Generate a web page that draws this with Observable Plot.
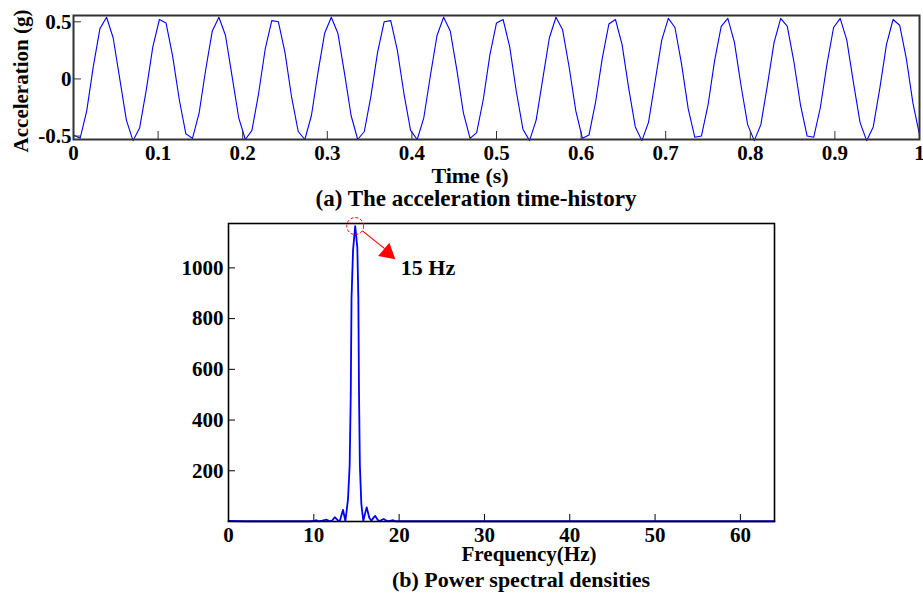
<!DOCTYPE html>
<html><head><meta charset="utf-8">
<script src="https://cdn.jsdelivr.net/npm/d3@7"></script>
<script src="https://cdn.jsdelivr.net/npm/@observablehq/plot@0.6"></script>
<style>
body{margin:0;background:#fff;}
#wrap{position:relative;width:923px;height:593px;background:#fff;overflow:hidden;font-family:"Liberation Serif","Times New Roman",serif;font-weight:bold;color:#000;}
.lbl{position:absolute;transform:translate(-50%,-50%);white-space:nowrap;font-size:22px;line-height:0.9;}
.panel{position:absolute;left:0;}
.panel svg{display:block;}
</style></head><body><div id="wrap"></div>
<script>
// ---- Panel (a): acceleration time-history (sampled at 128 Hz over 1 s) ----
const sampleInterval = 1 / 128;
const accel = [
  -0.49, -0.52, -0.28, 0.11, 0.44, 0.54, 0.36, 0.00, -0.36, -0.54, -0.43,
  -0.10, 0.28, 0.52, 0.49, 0.20, -0.18, -0.48, -0.52, -0.30, 0.08,
  0.42, 0.54, 0.38, 0.02, -0.34, -0.53, -0.45, -0.13, 0.26, 0.51,
  0.50, 0.23, -0.16, -0.46, -0.53, -0.32, 0.06, 0.40, 0.54, 0.40,
  0.05, -0.32, -0.53, -0.46, -0.15, 0.23, 0.50, 0.51, 0.25, -0.13,
  -0.45, -0.53, -0.34, 0.03, 0.38, 0.54, 0.42, 0.08, -0.30, -0.52,
  -0.47, -0.18, 0.21, 0.49, 0.52, 0.28, -0.11, -0.44, -0.54, -0.36,
  0.00, 0.36, 0.54, 0.43, 0.10, -0.28, -0.52, -0.49, -0.20, 0.18,
  0.48, 0.52, 0.30, -0.08, -0.42, -0.54, -0.38, -0.02, 0.34, 0.53,
  0.45, 0.13, -0.26, -0.51, -0.50, -0.23, 0.16, 0.46, 0.53, 0.32,
  -0.06, -0.40, -0.54, -0.40, -0.05, 0.32, 0.53, 0.46, 0.15, -0.23,
  -0.50, -0.51, -0.25, 0.13, 0.45, 0.53, 0.34, -0.03, -0.38, -0.54,
  -0.42, -0.08, 0.30, 0.52, 0.47, 0.18, -0.21, -0.49
];
const timeTicks = [0, 0.1, 0.2, 0.3, 0.4, 0.5, 0.6, 0.7, 0.8, 0.9, 1];
const accelTicks = [-0.5, 0, 0.5];

// ---- Panel (b): power spectral density ----
const freqHz = [0, 2, 4, 6, 8, 9.5, 10.0, 10.3, 10.6, 11.0, 11.5, 11.9, 12.15, 12.45, 12.8,
  13.05, 13.2, 13.42, 13.7, 14.0, 14.2, 14.33, 14.42, 14.6, 14.85, 15.1, 15.22, 15.3, 15.4, 15.57,
  15.8, 16.0, 16.2, 16.5, 16.75, 17.0, 17.2, 17.5, 17.75, 18.0, 18.2, 18.5, 18.8, 19.05, 19.3,
  19.6, 20, 25, 30, 35, 40, 45, 50, 54, 55, 60, 64];
const psd = [2, 1, 1, 1, 1, 1, 2, 5, 1, 3, 7, 1, 4, 17, 5,
  2, 20, 46, 2, 85, 220, 500, 880, 1070, 1165, 1080, 880, 500, 220, 70,
  2, 30, 56, 15, 3, 15, 22, 6, 2, 7, 10, 3, 1, 3, 5,
  1, 1, 1, 1, 1, 1, 1, 1, 1, 1, 1, 1];
const freqTicks = [0, 10, 20, 30, 40, 50, 60];
const psdTicks = [200, 400, 600, 800, 1000];
const peak = [{f: 14.85, p: 1165}];
const arrowAnno = [{x1: 15.7, y1: 1146, x2: 18.3, y2: 1076, hx: 18.65, hy: 1060}];
const labelAnno = [{f: 20.2, p: 1000, text: "15 Hz"}];

const wrap = document.getElementById("wrap");
const font = {fontFamily: '"Liberation Serif","Times New Roman",serif', fontWeight: "bold", fontSize: "21px", color: "#000", background: "transparent"};

// Panel (a)
const accelRows = accel.map((v, i) => ({t: i * sampleInterval, a: v}));
const topPlot = Plot.plot({
  width: 923, height: 166,
  marginLeft: 73, marginRight: 4, marginTop: 15, marginBottom: 27,
  x: {domain: [0, 1]},
  y: {domain: [-0.53, 0.555]},
  style: font,
  marks: [
    Plot.line(accelRows, {x: "t", y: "a", stroke: "#0000ff", strokeWidth: 1.1}),
    Plot.tickX(timeTicks, {x: d => d, stroke: "#333", strokeWidth: 1, insetTop: 116}),
    Plot.tickY(accelTicks, {y: d => d, stroke: "#333", strokeWidth: 1, insetRight: 838}),
    Plot.axisX({ticks: timeTicks, tickSize: 0, tickPadding: 6, tickFormat: d => String(d), label: null}),
    Plot.axisY({ticks: accelTicks, tickSize: 0, tickPadding: 2, tickFormat: d => String(d), label: null}),
    Plot.frame({stroke: "#333", strokeWidth: 2})
  ]
});
const topDiv = document.createElement("div");
topDiv.className = "panel"; topDiv.style.top = "0px";
topDiv.appendChild(topPlot);
wrap.appendChild(topDiv);

// Panel (b)
const psdRows = freqHz.map((f, i) => ({f, p: psd[i]}));
const botPlot = Plot.plot({
  width: 923, height: 344,
  marginLeft: 228, marginRight: 149, marginTop: 18, marginBottom: 28,
  x: {domain: [0, 64]},
  y: {domain: [0, 1175]},
  style: font,
  marks: [
    Plot.tickX(freqTicks, {x: d => d, stroke: "#000", strokeWidth: 1, insetTop: 291}),
    Plot.tickY(psdTicks, {y: d => d, stroke: "#000", strokeWidth: 1, insetRight: 539}),
    Plot.line(psdRows, {x: "f", y: "p", stroke: "#0000ff", strokeWidth: 1.8}),
    Plot.axisX({ticks: freqTicks, tickSize: 0, tickPadding: 6, tickFormat: d => String(d), label: null}),
    Plot.axisY({ticks: psdTicks, tickSize: 0, tickPadding: 5, tickFormat: d => String(d), label: null}),
    Plot.frame({stroke: "#000", strokeWidth: 1.6}),
    Plot.dot(peak, {x: "f", y: "p", r: 8.5, stroke: "#ff0000", fill: "none", strokeWidth: 1, strokeDasharray: "3,2"}),
    Plot.link(arrowAnno, {x1: "x1", y1: "y1", x2: "x2", y2: "y2", stroke: "#ff0000", strokeWidth: 1.2}),
    Plot.dot(arrowAnno, {x: "hx", y: "hy", symbol: "triangle", r: 6.5, fill: "#ff0000", stroke: "none", rotate: 130}),
    Plot.text(labelAnno, {x: "f", y: "p", text: "text", textAnchor: "start", fontSize: 22, fontWeight: "bold", fill: "#000"})
  ]
});
const botDiv = document.createElement("div");
botDiv.className = "panel"; botDiv.style.top = "205px";
botDiv.appendChild(botPlot);
wrap.appendChild(botDiv);

// Titles & captions
function label(text, cx, cy, size, extra) {
  const d = document.createElement("div");
  d.className = "lbl";
  d.textContent = text;
  d.style.left = cx + "px"; d.style.top = cy + "px";
  if (size) d.style.fontSize = size + "px";
  if (extra) d.style.transform = "translate(-50%,-50%) " + extra;
  wrap.appendChild(d);
}
label("Acceleration (g)", 21, 81, 21, "rotate(-90deg)");
label("Time (s)", 470, 176, 22);
label("(a) The acceleration time-history", 476, 199, 23);
label("Frequency(Hz)", 529, 554, 21);
label("(b) Power spectral densities", 521, 580, 22);
</script>
</body></html>
